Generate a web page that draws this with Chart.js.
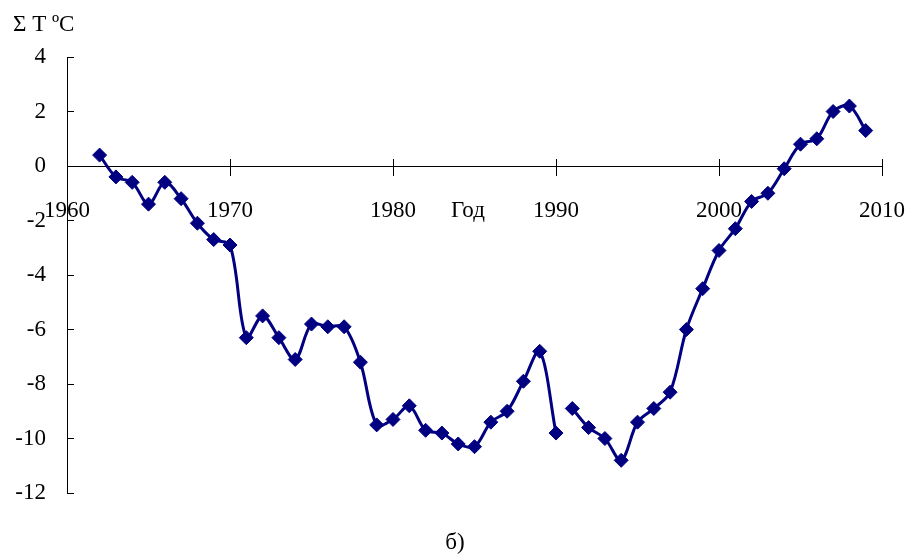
<!DOCTYPE html>
<html><head><meta charset="utf-8">
<style>html,body{margin:0;padding:0;background:#fff}canvas{display:block}</style>
<script src="https://cdn.jsdelivr.net/npm/chart.js@4/dist/chart.umd.min.js"></script>
</head><body>
<canvas id="c" width="922" height="558"></canvas>
<script>
const years = [1962,1963,1964,1965,1966,1967,1968,1969,1970,1971,1972,1973,1974,1975,1976,1977,1978,1979,1980,1981,1982,1983,1984,1985,1986,1987,1988,1989,1990,
               1991,1992,1993,1994,1995,1996,1997,1998,1999,2000,2001,2002,2003,2004,2005,2006,2007,2008,2009];
const values = [0.4,-0.4,-0.6,-1.4,-0.6,-1.2,-2.1,-2.7,-2.9,-6.3,-5.5,-6.3,-7.1,-5.8,-5.9,-5.9,-7.2,-9.5,-9.3,-8.8,-9.7,-9.8,-10.2,-10.3,-9.4,-9.0,-7.9,-6.8,-9.8,
                -8.9,-9.6,-10.0,-10.8,-9.4,-8.9,-8.3,-6.0,-4.5,-3.1,-2.3,-1.3,-1.0,-0.1,0.8,1.0,2.0,2.2,1.3];
const gapAfterYear = 1990;
const xTicks = [1960,1970,1980,1990,2000,2010];
const yTicks = [4,2,0,-2,-4,-6,-8,-10,-12];
const yAxisTitle = 'Σ T ºC';
const xAxisTitle = 'Год';
const caption = 'б)';

const NAVY = '#000080';
const FONT = '"Liberation Serif", "Times New Roman", serif';
Chart.defaults.font.family = FONT;
Chart.defaults.font.size = 23;
Chart.defaults.color = '#000';

const pts = years.map((y, i) => ({x: y, y: values[i]}));
const part1 = pts.filter(p => p.x <= gapAfterYear);
const part2 = pts.filter(p => p.x > gapAfterYear);

const dsStyle = {
  borderColor: NAVY, backgroundColor: NAVY, borderWidth: 3,
  pointStyle: 'rectRot', pointRadius: 7, pointBorderWidth: 1,
  pointBackgroundColor: NAVY, pointBorderColor: NAVY,
  tension: 0.33, fill: false
};

const textPlugin = {
  id: 'texts',
  afterDraw(chart) {
    const ctx = chart.ctx;
    const xs = chart.scales.x, ys = chart.scales.y;
    const y0 = ys.getPixelForValue(0);
    ctx.save();
    ctx.strokeStyle = '#000'; ctx.lineWidth = 1;
    xTicks.forEach(v => {
      const px = Math.round(xs.getPixelForValue(v)) + 0.5;
      ctx.beginPath(); ctx.moveTo(px, y0 - 7); ctx.lineTo(px, y0); ctx.stroke();
    });
    ctx.fillStyle = '#000';
    ctx.font = '23px ' + FONT;
    ctx.textBaseline = 'alphabetic';
    ctx.textAlign = 'left';
    ctx.fillText(yAxisTitle, 13, 31);
    ctx.textAlign = 'center';
    ctx.fillText(xAxisTitle, 468, 217);
    ctx.fillText(caption, 455, 549);
    ctx.restore();
  }
};

new Chart(document.getElementById('c'), {
  type: 'line',
  data: { datasets: [
    Object.assign({ data: part1 }, dsStyle),
    Object.assign({ data: part2 }, dsStyle)
  ]},
  options: {
    responsive: false, animation: false,
    layout: { padding: { top: 57, right: 40, bottom: 65, left: 0 } },
    plugins: { legend: { display: false }, tooltip: { enabled: false }, title: { display: false } },
    scales: {
      x: {
        type: 'linear', min: 1960, max: 2010,
        position: { y: 0 },
        afterBuildTicks: s => { s.ticks = xTicks.map(v => ({ value: v })); },
        afterFit: s => { s.paddingLeft = 0; s.paddingRight = 0; },
        ticks: { callback: v => String(v), padding: 22, maxRotation: 0, autoSkip: false },
        grid: { drawOnChartArea: false, tickLength: 9, color: '#000', lineWidth: 1 },
        border: { display: true, color: '#000', width: 1 }
      },
      y: {
        type: 'linear', min: -12, max: 4,
        afterBuildTicks: s => { s.ticks = yTicks.map(v => ({ value: v })); },
        afterFit: s => { s.width = 67; },
        ticks: { callback: v => String(v), padding: 28 },
        grid: { drawOnChartArea: false, tickLength: -7, color: '#000', lineWidth: 1 },
        border: { display: true, color: '#000', width: 1 }
      }
    }
  },
  plugins: [textPlugin]
});
</script>
</body></html>
